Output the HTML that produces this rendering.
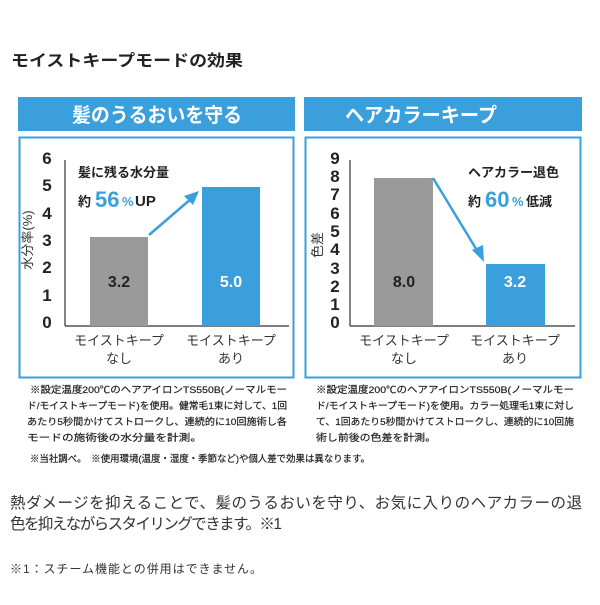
<!DOCTYPE html>
<html><head><meta charset="utf-8"><style>
html,body{margin:0;padding:0;background:#fff;}
svg text{font-family:"Liberation Sans","Noto Sans CJK JP",sans-serif;}
</style></head><body>
<svg width="600" height="600" viewBox="0 0 600 600" xmlns="http://www.w3.org/2000/svg">
<rect width="600" height="600" fill="#fff"/>
<text x="11" y="66" font-size="16" font-weight="bold" fill="#222" textLength="232" lengthAdjust="spacingAndGlyphs">モイストキープモードの効果</text>

<!-- left panel -->
<rect x="18" y="97" width="277" height="34" fill="#3a9fdb"/>
<text x="157" y="122" font-size="20" font-weight="bold" fill="#fff" text-anchor="middle" textLength="170" lengthAdjust="spacingAndGlyphs">髪のうるおいを守る</text>
<rect x="19.5" y="137.5" width="274" height="240" fill="#fff" stroke="#3a9fdb" stroke-width="2"/>
<line x1="65" y1="160" x2="65" y2="326" stroke="#333" stroke-width="1.2"/>
<line x1="65" y1="326" x2="289" y2="326" stroke="#333" stroke-width="1.2"/>
<g font-size="17" font-weight="bold" fill="#222" text-anchor="middle">
<text x="47" y="164">6</text><text x="47" y="191">5</text><text x="47" y="219">4</text><text x="47" y="246">3</text><text x="47" y="273">2</text><text x="47" y="301">1</text><text x="47" y="328">0</text>
</g>
<text transform="translate(32,240) rotate(-90)" font-size="13" fill="#333" text-anchor="middle">水分率(%)</text>
<rect x="90" y="237" width="58" height="89" fill="#9a9a9a"/>
<rect x="202" y="187" width="58" height="139" fill="#3a9fdb"/>
<text x="119" y="287" font-size="16" font-weight="bold" fill="#222" text-anchor="middle">3.2</text>
<text x="231" y="287" font-size="16" font-weight="bold" fill="#fff" text-anchor="middle">5.0</text>
<text x="78" y="177" font-size="13" font-weight="bold" fill="#222">髪に残る水分量</text>
<text x="78" y="206" font-size="13" font-weight="bold" fill="#222">約</text>
<text x="95" y="207" font-size="22" font-weight="bold" fill="#3a9fdb">56</text>
<text x="122" y="206" font-size="13" font-weight="bold" fill="#3a9fdb">%</text>
<text x="135" y="206" font-size="15" font-weight="bold" fill="#222">UP</text>
<line x1="149" y1="235" x2="192" y2="198" stroke="#3a9fdb" stroke-width="2.5"/>
<polygon points="199,191 184,196 193,205" fill="#3a9fdb"/>
<g font-size="13" fill="#333" text-anchor="middle">
<text x="119" y="345">モイストキープ</text><text x="119" y="363">なし</text>
<text x="231" y="345">モイストキープ</text><text x="231" y="363">あり</text>
</g>

<!-- right panel -->
<rect x="304" y="97" width="278" height="34" fill="#3a9fdb"/>
<text x="421" y="122" font-size="20" font-weight="bold" fill="#fff" text-anchor="middle" textLength="152" lengthAdjust="spacingAndGlyphs">ヘアカラーキープ</text>
<rect x="305.5" y="137.5" width="275" height="240" fill="#fff" stroke="#3a9fdb" stroke-width="2"/>
<line x1="350" y1="160" x2="350" y2="326" stroke="#333" stroke-width="1.2"/>
<line x1="350" y1="326" x2="575" y2="326" stroke="#333" stroke-width="1.2"/>
<g font-size="17" font-weight="bold" fill="#222" text-anchor="middle">
<text x="335" y="164">9</text><text x="335" y="182">8</text><text x="335" y="200">7</text><text x="335" y="219">6</text><text x="335" y="237">5</text><text x="335" y="255">4</text><text x="335" y="274">3</text><text x="335" y="292">2</text><text x="335" y="310">1</text><text x="335" y="328">0</text>
</g>
<text transform="translate(322,245) rotate(-90)" font-size="13" fill="#333" text-anchor="middle">色差</text>
<rect x="374" y="178" width="59" height="148" fill="#9a9a9a"/>
<rect x="486" y="264" width="59" height="62" fill="#3a9fdb"/>
<text x="404" y="287" font-size="16" font-weight="bold" fill="#222" text-anchor="middle">8.0</text>
<text x="515" y="287" font-size="16" font-weight="bold" fill="#fff" text-anchor="middle">3.2</text>
<text x="468" y="177" font-size="13" font-weight="bold" fill="#222">ヘアカラー退色</text>
<text x="468" y="206" font-size="13" font-weight="bold" fill="#222">約</text>
<text x="485" y="207" font-size="22" font-weight="bold" fill="#3a9fdb">60</text>
<text x="512" y="206" font-size="13" font-weight="bold" fill="#3a9fdb">%</text>
<text x="526" y="206" font-size="13" font-weight="bold" fill="#222">低減</text>
<line x1="433" y1="178" x2="478" y2="252" stroke="#3a9fdb" stroke-width="2.5"/>
<polygon points="484,262 472,250 483,245" fill="#3a9fdb"/>
<g font-size="13" fill="#333" text-anchor="middle">
<text x="404" y="345">モイストキープ</text><text x="404" y="363">なし</text>
<text x="515" y="345">モイストキープ</text><text x="515" y="363">あり</text>
</g>

<!-- notes -->
<g font-size="9.5" fill="#222" stroke="#222" stroke-width="0.2">
<text x="30" y="393" textLength="257" lengthAdjust="spacingAndGlyphs">※設定温度200℃のヘアアイロンTS550B(ノーマルモー</text>
<text x="27" y="409" textLength="260" lengthAdjust="spacingAndGlyphs">ド/モイストキープモード)を使用。健常毛1束に対して、1回</text>
<text x="27" y="425" textLength="260" lengthAdjust="spacingAndGlyphs">あたり5秒間かけてストロークし、連続的に10回施術し各</text>
<text x="27" y="441" textLength="175" lengthAdjust="spacingAndGlyphs">モードの施術後の水分量を計測。</text>
<text x="316" y="393" textLength="258" lengthAdjust="spacingAndGlyphs">※設定温度200℃のヘアアイロンTS550B(ノーマルモー</text>
<text x="316" y="409" textLength="258" lengthAdjust="spacingAndGlyphs">ド/モイストキープモード)を使用。カラー処理毛1束に対し</text>
<text x="316" y="425" textLength="258" lengthAdjust="spacingAndGlyphs">て、1回あたり5秒間かけてストロークし、連続的に10回施</text>
<text x="316" y="441" textLength="120" lengthAdjust="spacingAndGlyphs">術し前後の色差を計測。</text>
<text x="30" y="462" textLength="340" lengthAdjust="spacingAndGlyphs">※当社調べ。　※使用環境(温度・湿度・季節など)や個人差で効果は異なります。</text>
</g>

<g fill="#333">
<text x="10" y="508" font-size="15.5" textLength="572" lengthAdjust="spacing">熱ダメージを抑えることで、髪のうるおいを守り、お気に入りのヘアカラーの退</text>
<text x="10" y="529" font-size="15.5" textLength="272" lengthAdjust="spacing">色を抑えながらスタイリングできます。※1</text>
<text x="10" y="573" font-size="12" textLength="252" lengthAdjust="spacing">※1：スチーム機能との併用はできません。</text>
</g>
</svg>
</body></html>
